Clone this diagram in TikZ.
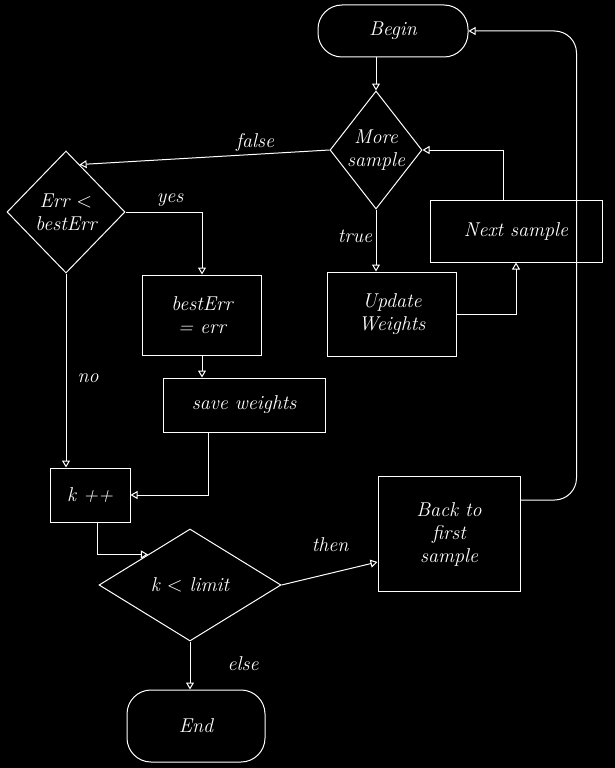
\documentclass[tikz,border=0pt]{standalone}
\usetikzlibrary{shapes.geometric,arrows.meta}
\begin{document}
\begin{tikzpicture}[x=1pt,y=-1pt,
  every node/.style={text=white, font=\fontsize{20}{23}\selectfont\itshape},
  pbox/.style={draw=white, line width=1pt, align=center, inner sep=0pt, rectangle},
  term/.style={pbox, rounded corners=24pt},
  dec/.style={draw=white, line width=1pt, diamond, inner sep=0pt},
  conn/.style={draw=white, line width=1pt, -{Triangle[open,length=7pt,width=8pt]}}
]
\fill[black] (0,0) rectangle (615,768);
\useasboundingbox (0,0) rectangle (615,768);

\node[term, minimum width=150pt, minimum height=52pt] (begin) at (393,31) {Begin};
\node[dec, minimum width=92pt, minimum height=118pt,
      label={[align=center]center:More\\sample}] (more) at (376,150) {};
\node[pbox, minimum width=172pt, minimum height=62pt] (next) at (516,231) {Next sample};
\node[pbox, minimum width=129pt, minimum height=84pt] (update) at (392,314) {Update\\Weights};
\node[dec, minimum width=118pt, minimum height=122pt,
      label={[align=center]center:Err $<$\\bestErr}] (err) at (66,212) {};
\node[pbox, minimum width=119pt, minimum height=80pt] (best) at (202,315) {bestErr\\= err};
\node[pbox, minimum width=162pt, minimum height=54pt] (save) at (244,405) {save weights};
\node[pbox, minimum width=80pt, minimum height=54pt] (kpp) at (90,495) {k ++};
\node[dec, minimum width=182pt, minimum height=112pt,
      label={[align=center]center:k $<$ limit}] (limit) at (190,585) {};
\node[pbox, minimum width=142pt, minimum height=115pt] (back) at (449,534) {Back to\\first\\sample};
\node[term, minimum width=138pt, minimum height=72pt] (end) at (196,726) {End};

\draw[conn] (more.north |- begin.south) -- (more.north);
\draw[conn] ([xshift=-13pt]next.north) |- (more.east);
\draw[conn] (more.south) -- (more.south |- update.north);
\draw[conn] (update.east) -| (next.south);
\draw[conn] (more.west) -- (err.74);
\draw[conn] (err.east) -| (best.north);
\draw[conn] (best.south) -- (best.south |- save.north);
\draw[conn] ([xshift=-36pt]save.south) |- (kpp.east);
\draw[conn] (err.south) -- (err.south |- kpp.north);
\draw[conn] ([xshift=7pt]kpp.south) |- (limit.144);
\draw[conn] (limit.east) -- ([yshift=-28pt]back.west);
\draw[conn, rounded corners=22pt] ([yshift=34pt]back.east) -- ++(56,0) |- (begin.east);
\draw[conn] (limit.south) -- (limit.south |- end.north);

\node (lfalse) at (255,142) {false};
\node (ltrue) at (355,236) {true};
\node (lyes) at (170,200) {yes};
\node (lno) at (88,378) {no};
\node (lthen) at (330,545) {then};
\node (lelse) at (243,664) {else};
\end{tikzpicture}
\end{document}
